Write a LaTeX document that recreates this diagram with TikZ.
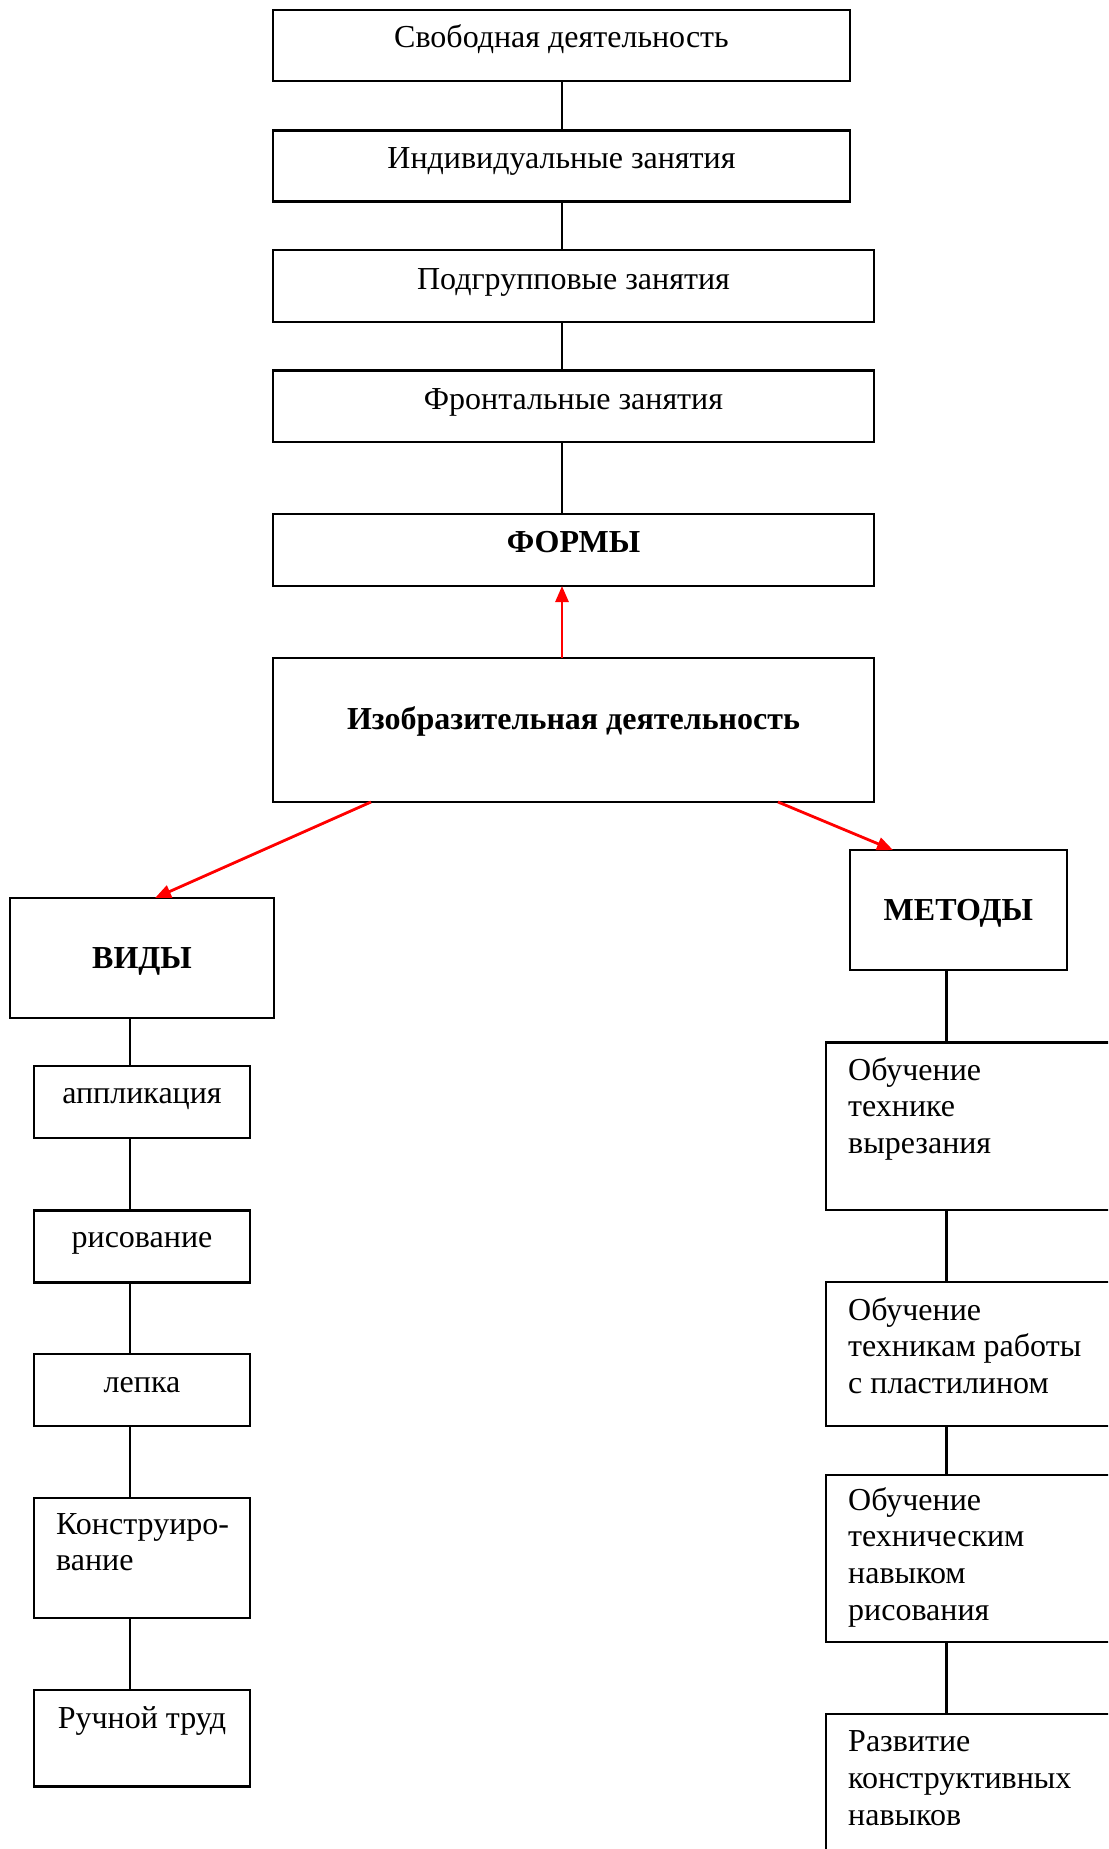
\documentclass[tikz,border=0pt]{standalone}
\usepackage{fontspec}
\setmainfont{Liberation Serif}
\usetikzlibrary{arrows.meta,calc}
\begin{document}
\begin{tikzpicture}[x=1pt,y=-1pt,
  box/.style={draw=black, line width=2.2pt, inner sep=0pt, outer sep=0pt, anchor=north west},
  conn/.style={draw=black, line width=2.2pt},
  redarr/.style={draw=red, line width=2.8pt, -{Triangle[length=16pt,width=13pt]}},
  txt/.style={inner sep=0pt, anchor=base, font=\fontsize{32}{36.8}\selectfont},
  btxt/.style={inner sep=0pt, anchor=base, font=\fontsize{32}{36.8}\selectfont\bfseries},
  ltxt/.style={inner sep=0pt, anchor=base west, font=\fontsize{32}{36.8}\selectfont},
]
\useasboundingbox (0,0) rectangle (1108,1849);
\clip (0,0) rectangle (1108,1849);
\fill[white] (0,0) rectangle (1108,1849);

% column reference coordinates
\coordinate (mc) at (562,0);
\coordinate (lc) at (130,0);
\coordinate (rc) at (946.5,0);

% top column
\node[box, minimum width=577pt, minimum height=71pt] (b1) at (273,10) {};
\node[box, minimum width=577pt, minimum height=71pt] (b2) at (273,130.5) {};
\node[box, minimum width=601pt, minimum height=72pt] (b3) at (273,250) {};
\node[box, minimum width=601pt, minimum height=71.5pt] (b4) at (273,370.5) {};
\node[box, minimum width=601pt, minimum height=72pt] (b5) at (273,514) {};
\node[box, minimum width=601pt, minimum height=144pt] (b6) at (273,658) {};

\node[txt] (t1) at (561.5,48) {Свободная деятельность};
\node[txt] (t2) at (561.5,168.5) {Индивидуальные занятия};
\node[txt] (t3) at (573.5,289) {Подгрупповые занятия};
\node[txt] (t4) at (573.5,409.5) {Фронтальные занятия};
\node[btxt] (t5) at (573.5,552.5) {ФОРМЫ};
\node[btxt] (t6) at (573.5,729) {Изобразительная деятельность};

% left branch
\node[box, minimum width=264pt, minimum height=120pt] (vidy) at (10,898) {};
\node[btxt] (tv) at (142,968) {ВИДЫ};
\node[box, minimum width=216pt, minimum height=72pt] (l1) at (34,1066) {};
\node[box, minimum width=216pt, minimum height=72pt] (l2) at (34,1210.5) {};
\node[box, minimum width=216pt, minimum height=72pt] (l3) at (34,1354) {};
\node[box, minimum width=216pt, minimum height=120pt] (l4) at (34,1498) {};
\node[box, minimum width=216pt, minimum height=96.5pt] (l5) at (34,1690) {};
\node[txt] (tl1) at (142,1103) {аппликация};
\node[txt] (tl2) at (142,1247) {рисование};
\node[txt] (tl3) at (142,1392) {лепка};
\node[ltxt] (tl4) at (56,1534) {\parbox[t]{190pt}{\raggedright Конструиро-\\вание}};
\node[txt] (tl5) at (142,1728) {Ручной труд};

% right branch
\node[box, minimum width=216.7pt, minimum height=120pt] (met) at (850,850) {};
\node[btxt] (tm) at (958.3,920) {МЕТОДЫ};
\node[box, minimum width=300pt, minimum height=167.5pt] (r1) at (826,1042.5) {};
\node[box, minimum width=300pt, minimum height=143.7pt] (r2) at (826,1282.3) {};
\node[box, minimum width=300pt, minimum height=167pt] (r3) at (826,1475) {};
\node[box, minimum width=300pt, minimum height=160pt] (r4) at (826,1714) {};
\node[ltxt] (tr1) at (848,1080) {\parbox[t]{300pt}{\raggedright Обучение\\технике\\вырезания}};
\node[ltxt] (tr2) at (848,1320) {\parbox[t]{300pt}{\raggedright Обучение\\техникам работы\\с пластилином}};
\node[ltxt] (tr3) at (848,1510) {\parbox[t]{300pt}{\raggedright Обучение\\техническим\\навыком\\рисования}};
\node[ltxt] (tr4) at (848,1751.7) {\parbox[t]{300pt}{\raggedright Развитие\\конструктивных\\навыков}};

% black connectors
\draw[conn] (mc |- b1.south) -- (mc |- b2.north);
\draw[conn] (mc |- b2.south) -- (mc |- b3.north);
\draw[conn] (mc |- b3.south) -- (mc |- b4.north);
\draw[conn] (mc |- b4.south) -- (mc |- b5.north);

\draw[conn] (lc |- vidy.south) -- (lc |- l1.north);
\draw[conn] (lc |- l1.south) -- (lc |- l2.north);
\draw[conn] (lc |- l2.south) -- (lc |- l3.north);
\draw[conn] (lc |- l3.south) -- (lc |- l4.north);
\draw[conn] (lc |- l4.south) -- (lc |- l5.north);

\draw[conn] (rc |- met.south) -- (rc |- r1.north);
\draw[conn] (rc |- r1.south) -- (rc |- r2.north);
\draw[conn] (rc |- r2.south) -- (rc |- r3.north);
\draw[conn] (rc |- r3.south) -- (rc |- r4.north);

% red arrows
\draw[redarr] (mc |- b6.north) -- (mc |- b5.south);
\draw[redarr] ($(b6.south west)+(98,0)$) -- ($(vidy.north west)+(145,0)$);
\draw[redarr] ($(b6.south east)+(-96,0)$) -- ($(met.north west)+(43,0)$);
\end{tikzpicture}
\end{document}
